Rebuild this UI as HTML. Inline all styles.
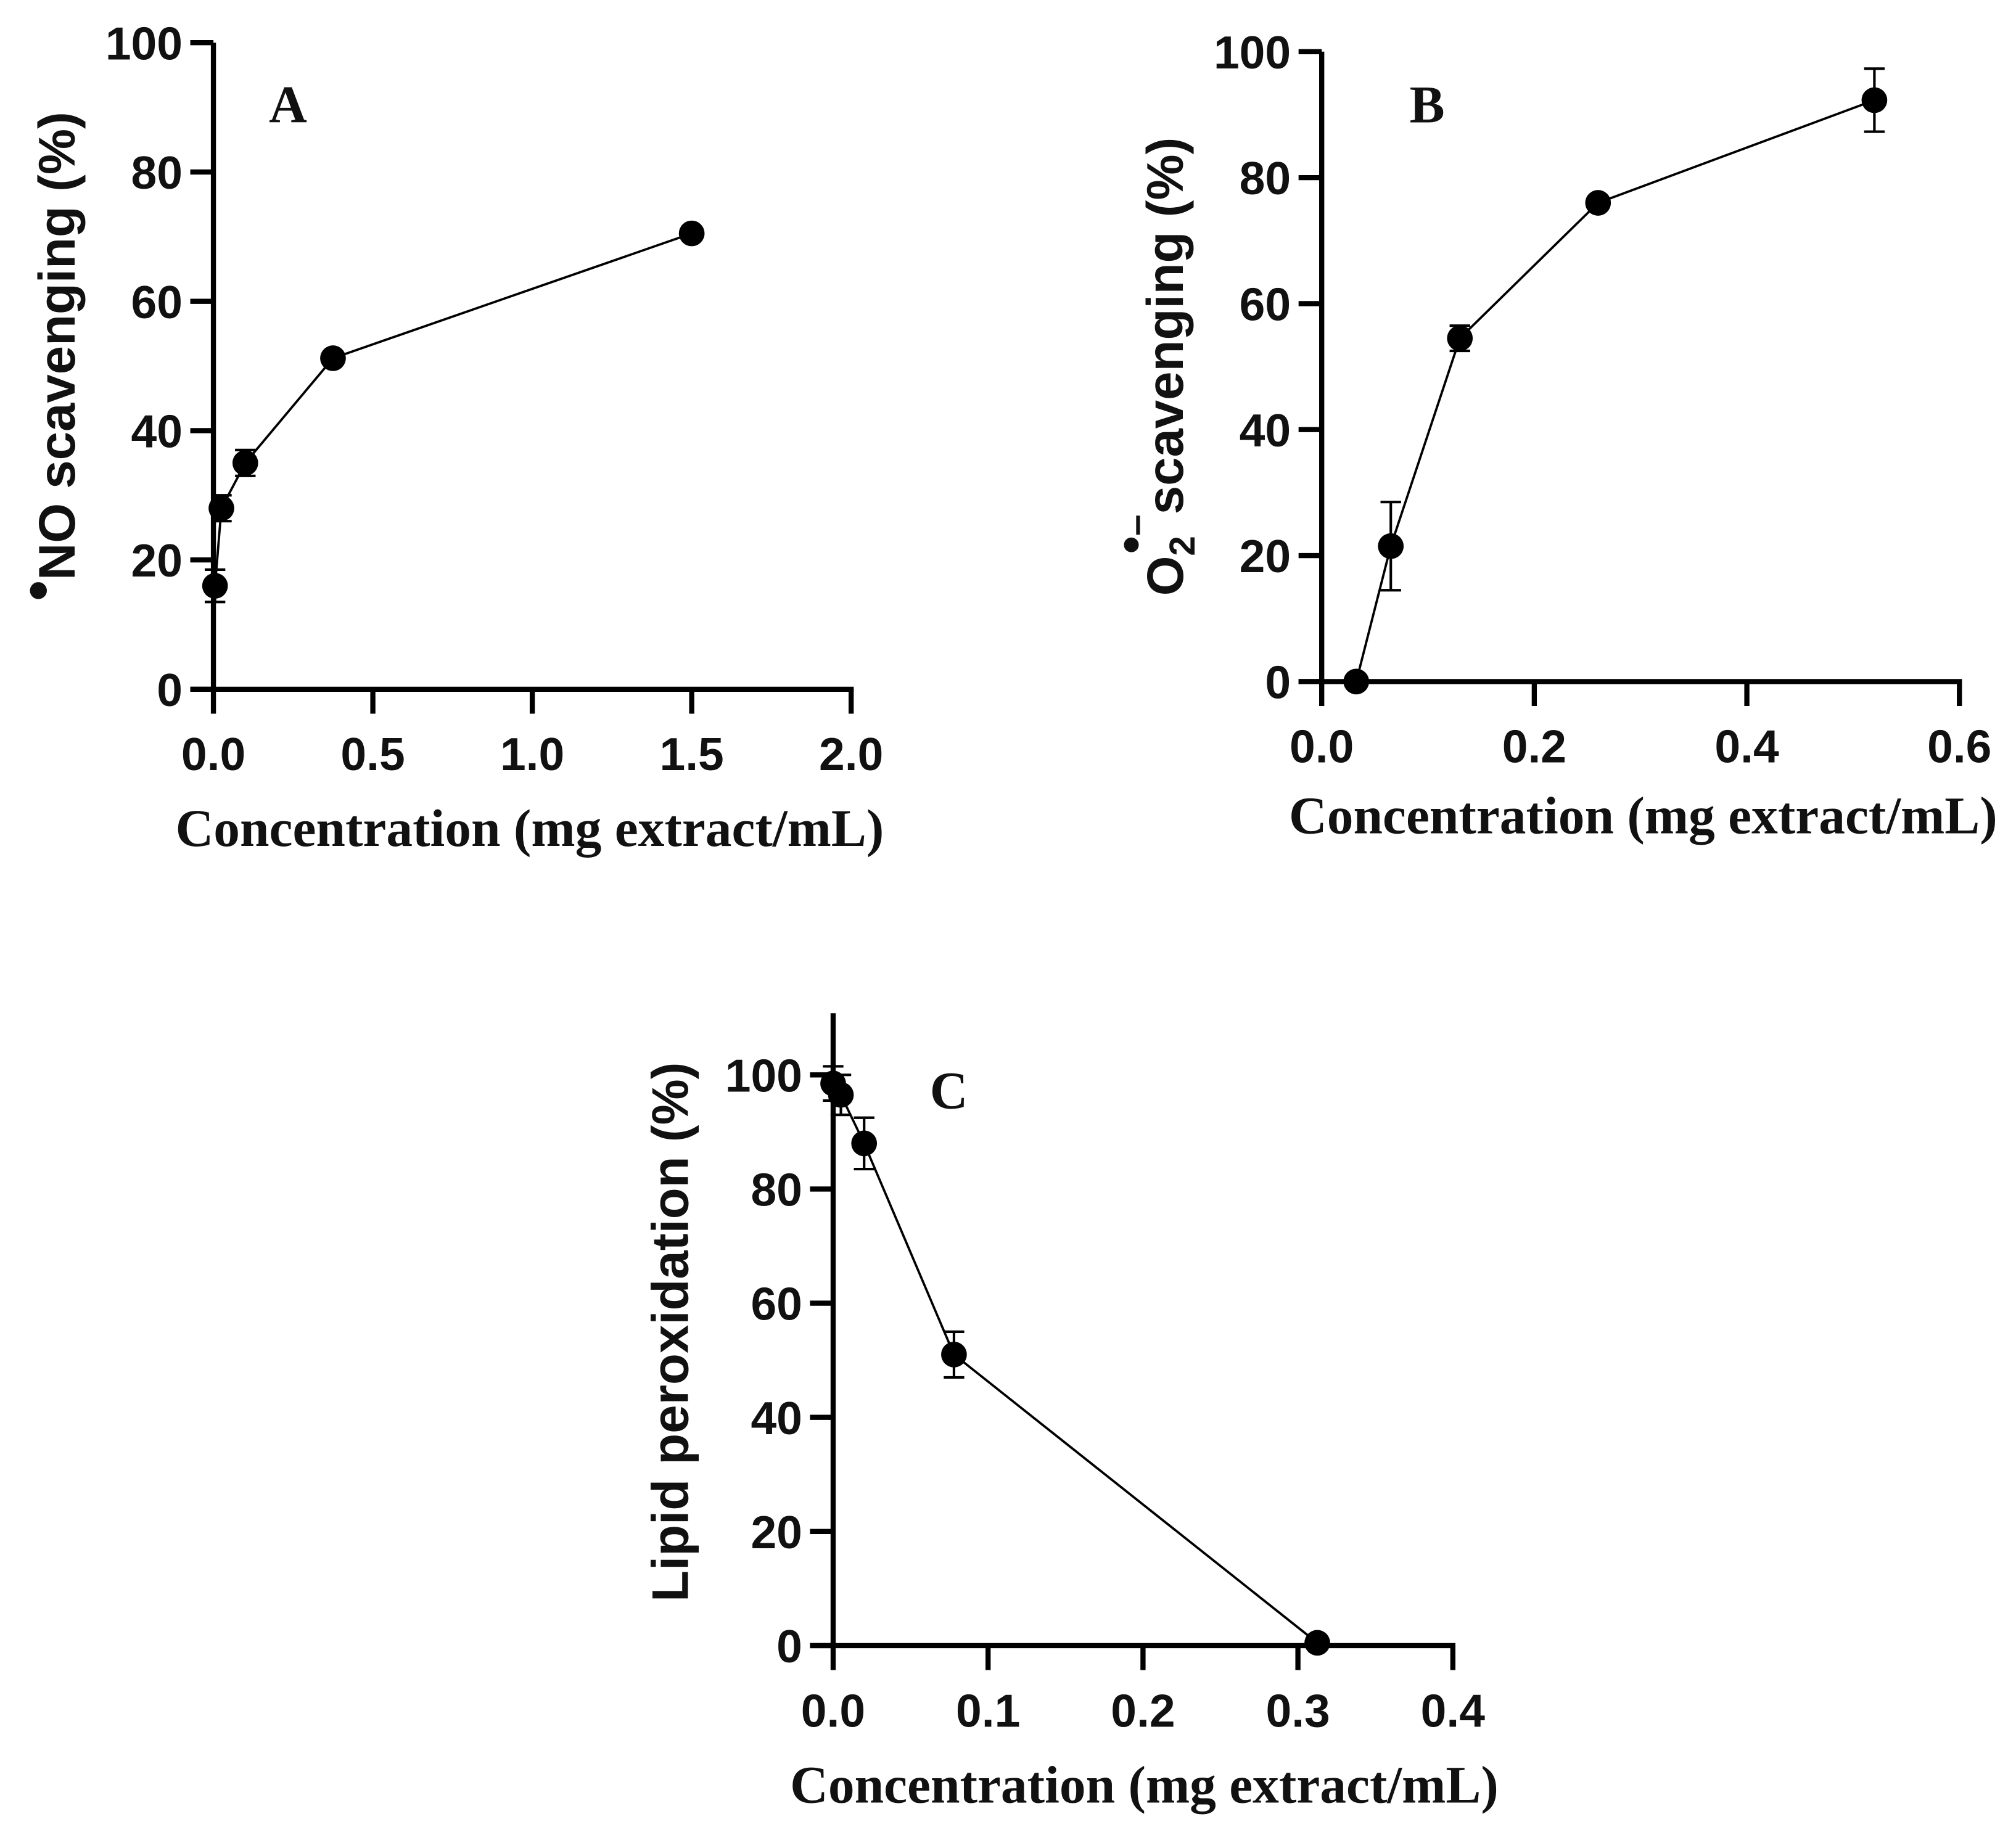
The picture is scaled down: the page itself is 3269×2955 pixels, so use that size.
<!DOCTYPE html>
<html><head><meta charset="utf-8"><style>
html,body{margin:0;padding:0;background:#fff}
svg{display:block}
.tick{font-family:"Liberation Sans",sans-serif;font-weight:bold;font-size:36px;fill:#111}
.ttl{font-family:"Liberation Serif",serif;font-weight:bold;font-size:41px;fill:#111}
.ytl{font-family:"Liberation Sans",sans-serif;font-weight:bold;font-size:40px;fill:#111}
</style></head><body>
<svg id="fig" width="3269" height="2955" viewBox="0 0 1568 1417" xmlns="http://www.w3.org/2000/svg"></svg>
<script>
const aX=[0.005,0.025,0.1,0.375,1.5];
const aY=[16,28,35,51.2,70.5];
const aE=[2.5,2,2,0,0];
const aXTicks=["0.0","0.5","1.0","1.5","2.0"];
const aYTicks=["0","20","40","60","80","100"];
const bX=[0.0325,0.065,0.13,0.26,0.52];
const bY=[0,21.5,54.5,76,92.3];
const bE=[0,7,2,0,5];
const bXTicks=["0.0","0.2","0.4","0.6"];
const bYTicks=["0","20","40","60","80","100"];
const cX=[0,0.005,0.02,0.078,0.3125];
const cY=[98.5,96.5,88,51,0.5];
const cE=[3,3.5,4.5,4,0];
const cXTicks=["0.0","0.1","0.2","0.3","0.4"];
const cYTicks=["0","20","40","60","80","100"];

const NS="http://www.w3.org/2000/svg";
const svg=document.getElementById('fig');
function mk(tag,attrs,parent){const e=document.createElementNS(NS,tag);for(const k in attrs)e.setAttribute(k,attrs[k]);(parent||svg).appendChild(e);return e;}

function panel(p){
  const g=mk('g',{});
  
  
  const sx=v=>p.x0+(v-p.xmin)/(p.xmax-p.xmin)*(p.x1-p.x0);
  const sy=v=>p.y0-(v-p.ymin)/(p.ymax-p.ymin)*(p.y0-p.y1);
  const yax=mk('line',{x1:p.x0,y1:p.y0+1.5,x2:p.x0,y2:p.ytop,stroke:'#000','stroke-width':4},g);
  
  
  const xax=mk('line',{x1:p.x0-18,y1:p.y0,x2:p.x1+2,y2:p.y0,stroke:'#000','stroke-width':4},g);
  
  
  p.yt.forEach(t=>{const v=parseFloat(t);const y=sy(v);
    mk('line',{x1:p.x0-18,y1:y,x2:p.x0,y2:y,stroke:'#000','stroke-width':4},g);
    const tx=mk('text',{x:p.x0-24,y:y+13,'text-anchor':'end',class:'tick'},g);tx.textContent=t;
    
    });
  p.xt.forEach(t=>{const v=parseFloat(t);const x=sx(v);
    mk('line',{x1:x,y1:p.y0,x2:x,y2:p.y0+19,stroke:'#000','stroke-width':4},g);
    const tx=mk('text',{x:x,y:p.y0+63,'text-anchor':'middle',class:'tick'},g);tx.textContent=t;
    
    });
  const pts=p.xs.map((v,i)=>sx(v)+','+sy(p.ys[i])).join(' ');
  const pl=mk('polyline',{points:pts,fill:'none',stroke:'#000','stroke-width':1.8},g);
  
  
  p.xs.forEach((v,i)=>{const x=sx(v),y=sy(p.ys[i]);
    if(p.es[i]>0){const ya=sy(p.ys[i]+p.es[i]),yb=sy(p.ys[i]-p.es[i]);
      const eb=mk('path',{d:`M${x},${ya}V${yb}M${x-8},${ya}H${x+8}M${x-8},${yb}H${x+8}`,stroke:'#000','stroke-width':2,fill:'none'},g);
      
      }
    const c=mk('circle',{cx:x,cy:y,r:10,fill:'#000'},g);
    
    });
  const xt=mk('text',{x:p.xtx,y:p.xty,'text-anchor':'middle',class:'ttl'},g);xt.textContent='Concentration (mg extract/mL)';
  
  
  const lt=mk('text',{x:p.lx,y:p.ly,'text-anchor':'middle',class:'ttl'},g);lt.textContent=p.letter;
  
  
  return g;
}
panel({name:'panel-a',x0:166,x1:662,y0:536,y1:33,ytop:33,xmin:0,xmax:2,ymin:0,ymax:100,xt:aXTicks,yt:aYTicks,xs:aX,ys:aY,es:aE,xtx:412,xty:658,letter:'A',lx:224,ly:95});
panel({name:'panel-b',x0:1028,x1:1524,y0:530,y1:40,ytop:40,xmin:0,xmax:0.6,ymin:0,ymax:100,xt:bXTicks,yt:bYTicks,xs:bX,ys:bY,es:bE,xtx:1278,xty:648,letter:'B',lx:1110,ly:95});
panel({name:'panel-c',x0:648,x1:1130,y0:1280,y1:836,ytop:788,xmin:0,xmax:0.4,ymin:0,ymax:100,xt:cXTicks,yt:cYTicks,xs:cX,ys:cY,es:cE,xtx:890,xty:1402,letter:'C',lx:738,ly:862});

function ytitle(name,x,y,build){const t=mk('text',{x:0,y:0,transform:`translate(${x},${y}) rotate(-90)`,'text-anchor':'middle',class:'ytl'});
  
  
  build(t);}
ytitle('y-axis-title-a',58,277,t=>{t.innerHTML='<tspan font-size="46" dy="-13">•</tspan><tspan dy="13">NO scavenging (%)</tspan>';});
ytitle('y-axis-title-b',920,285,t=>{t.innerHTML='O<tspan font-size="28" dy="9">2</tspan><tspan font-size="40" dx="-14" dy="-36">•</tspan><tspan font-size="30" dy="0">–</tspan><tspan dy="27">scavenging (%)</tspan>';});
ytitle('y-axis-title-c',535,1036,t=>{t.textContent='Lipid peroxidation (%)';});
</script>
</body></html>
